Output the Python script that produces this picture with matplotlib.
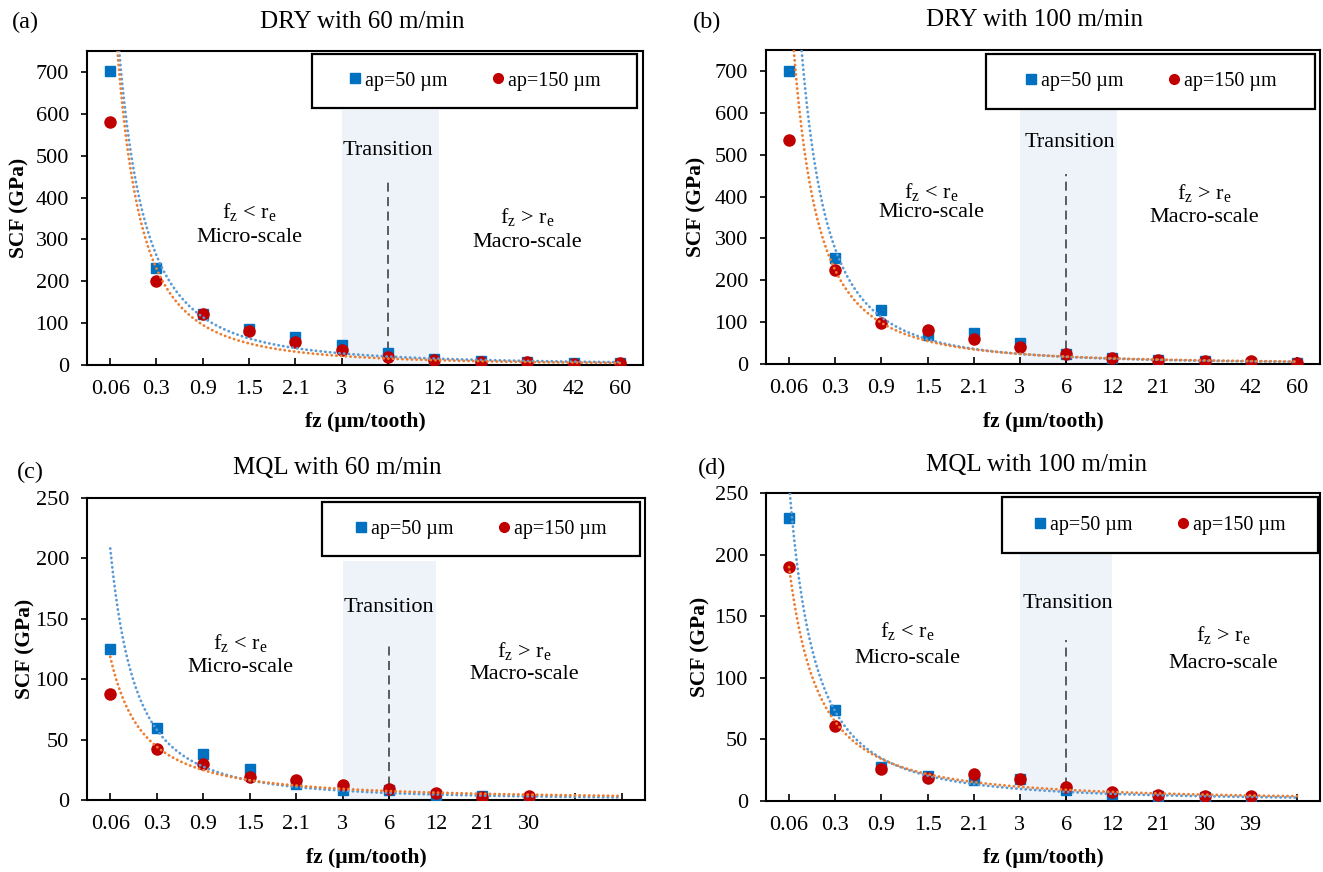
import numpy as np
import matplotlib
matplotlib.use("Agg")
import matplotlib.pyplot as plt
from matplotlib.patches import Rectangle
from matplotlib.lines import Line2D

plt.rcParams['font.family'] = ['Liberation Serif', 'DejaVu Serif']
plt.rcParams['mathtext.fontset'] = 'custom'
plt.rcParams['mathtext.rm'] = 'Liberation Serif'
plt.rcParams['mathtext.it'] = 'Liberation Serif:italic'

# ---------------- data ----------------
fz_dry = ['0.06', '0.3', '0.9', '1.5', '2.1', '3', '6', '12', '21', '30', '42', '60']
fz_mql60 = ['0.06', '0.3', '0.9', '1.5', '2.1', '3', '6', '12', '21', '30']
fz_mql100 = ['0.06', '0.3', '0.9', '1.5', '2.1', '3', '6', '12', '21', '30', '39']

scf_dry60_ap50 = [702, 232, 123, 87, 66, 47, 28, 15, 10, 8, 5, 5]
scf_dry60_ap150 = [581, 201, 121, 81, 56, 37, 20, 12, 6, 6, 3, 4]
scf_dry100_ap50 = [700, 252, 130, 70, 73, 49, 25, 14, 10, 6, 3, 3]
scf_dry100_ap150 = [535, 224, 97, 81, 59, 41, 24, 14, 10, 6, 6, 3]
scf_mql60_ap50 = [125, 60, 38, 25.5, 13.5, 8.5, 8.3, 4.5, 3.5, 1.2]
scf_mql60_ap150 = [88, 42.5, 29.5, 19, 16.5, 12.5, 9.5, 6, 2.8, 3.5]
scf_mql100_ap50 = [230, 74, 27.5, 20, 17, 17.5, 9, 6, 4, 3, 2.5]
scf_mql100_ap150 = [190, 61, 26, 19, 21.7, 17.6, 11.5, 7.5, 5, 4.3, 3.8]

legend_labels = ['ap=50 µm', 'ap=150 µm']
titles = ['DRY with 60 m/min', 'DRY with 100 m/min', 'MQL with 60 m/min', 'MQL with 100 m/min']
letters = ['(a)', '(b)', '(c)', '(d)']

# ---------------- styling ----------------
W, H = 1323, 872
BLUE_M, RED_M = '#0070C0', '#C00000'
BLUE_T, ORANGE_T = '#5B9BD5', '#ED7D31'
SHADE = '#EEF3FA'

fig = plt.figure(figsize=(W / 100, H / 100), dpi=100)


def fx(px):
    return px / W


def fy(py):
    return 1 - py / H


F_LT = r'$\mathregular{f_z}$ < $\mathregular{r_e}$'
F_GT = r'$\mathregular{f_z}$ > $\mathregular{r_e}$'

panels = [
    dict(rect=(87, 51, 643, 365), cats=fz_dry, ncat=12, ys=(scf_dry60_ap50, scf_dry60_ap150),
         ylim=750, yticks=np.arange(0, 701, 100), shade=(6, 8.1, 610), vline=440,
         texts=[(7, 513, 'Transition'), (4, 365, F_LT), (4, 305, 'Micro-scale'),
                (10, 353, F_GT), (10, 293, 'Macro-scale')],
         legend=(312, 54, 637, 108), title=(362, 22), letter=(25, 22), ylab=-0.122, xlab=-0.182),
    dict(rect=(766, 50, 1320, 364), cats=fz_dry, ncat=12, ys=(scf_dry100_ap50, scf_dry100_ap150),
         ylim=750, yticks=np.arange(0, 701, 100), shade=(6, 8.1, 635), vline=455,
         texts=[(7.08, 530, 'Transition'), (4.08, 412, F_LT), (4.08, 361, 'Micro-scale'),
                (10, 409, F_GT), (10, 349, 'Macro-scale')],
         legend=(986, 54, 1315, 109), title=(1034, 20), letter=(707, 22), ylab=-0.126, xlab=-0.185),
    dict(rect=(87, 498, 645, 800), cats=fz_mql60, ncat=12, ys=(scf_mql60_ap50, scf_mql60_ap150),
         ylim=250, yticks=np.arange(0, 251, 50), shade=(6, 8, 198), vline=129,
         texts=[(7, 159, 'Transition'), (3.8, 130, F_LT), (3.8, 110, 'Micro-scale'),
                (9.9, 123, F_GT), (9.9, 104, 'Macro-scale')],
         legend=(322, 502, 640, 556), title=(337, 468), letter=(30, 472), ylab=-0.111, xlab=-0.192),
    dict(rect=(766, 493, 1320, 801), cats=fz_mql100, ncat=12, ys=(scf_mql100_ap50, scf_mql100_ap150),
         ylim=250, yticks=np.arange(0, 251, 50), shade=(6, 8, 201), vline=131,
         texts=[(7.04, 160, 'Transition'), (3.56, 138, F_LT), (3.56, 116, 'Micro-scale'),
                (10.4, 135, F_GT), (10.4, 112, 'Macro-scale')],
         legend=(1002, 497, 1318, 553), title=(1036, 465), letter=(712, 468), ylab=-0.119, xlab=-0.185),
]

for i, p in enumerate(panels):
    x0, y0, x1, y1 = p['rect']
    ax = fig.add_axes([fx(x0), fy(y1), fx(x1 - x0), (y1 - y0) / H])
    ncat = p['ncat']
    cats = list(p['cats']) + [''] * (ncat - len(p['cats']))
    xpos = np.arange(1, ncat + 1)

    # shaded transition region
    s0, s1, stop = p['shade']
    ax.add_patch(Rectangle((s0, 0), s1 - s0, stop, facecolor=SHADE, edgecolor='none', zorder=0))
    # dashed line at fz = 6
    ax.plot([7, 7], [0, p['vline']], color='#505050', lw=1.3, ls=(0, (5, 3)), zorder=1)

    # markers
    ya, yb = p['ys']
    xa = np.arange(1, len(ya) + 1)
    ax.plot(xa, ya, ls='none', marker='s', ms=7.5, color=BLUE_M, mec=BLUE_M, zorder=3)
    ax.plot(xa, yb, ls='none', marker='o', ms=8, color=RED_M, mec=RED_M, zorder=3.5)

    # power trendlines (least squares in log-log, as in the original)
    xt = np.linspace(1, ncat, 400)
    for yv, c in ((ya, BLUE_T), (yb, ORANGE_T)):
        b, lna = np.polyfit(np.log(xa), np.log(yv), 1)
        ax.plot(xt, np.exp(lna) * xt ** b, color=c, lw=2.0, ls=(0, (0.1, 1.6)),
                dash_capstyle='round', solid_capstyle='round', zorder=4)

    for tx, ty, s in p['texts']:
        ax.text(tx, ty, s, ha='center', va='center', fontsize=16, zorder=2)

    ax.set_xlim(0.5, ncat + 0.5)
    ax.set_ylim(0, p['ylim'])
    ax.set_xticks(xpos)
    ax.set_xticklabels(cats)
    ax.set_yticks(p['yticks'])
    ax.tick_params(axis='x', direction='in', length=5, width=1.2, pad=11, labelsize=16)
    ax.tick_params(axis='y', direction='out', length=4, width=1.2, pad=9, labelsize=16)
    for sp in ax.spines.values():
        sp.set_linewidth(1.5)
        sp.set_color('black')

    ax.set_ylabel('SCF (GPa)', fontsize=15.5, fontweight='bold', va='center')
    ax.yaxis.set_label_coords(p['ylab'], 0.5)
    ax.set_xlabel('fz (µm/tooth)', fontsize=15.5, fontweight='bold', va='center')
    ax.xaxis.set_label_coords(0.5, p['xlab'])

    # legend box
    lx0, ly0, lx1, ly1 = p['legend']
    box = Rectangle((fx(lx0), fy(ly1)), fx(lx1 - lx0), (ly1 - ly0) / H, transform=fig.transFigure,
                    facecolor='white', edgecolor='black', lw=1.6, zorder=5, clip_on=False)
    ax.add_patch(box)
    handles = [Line2D([], [], ls='none', marker='s', ms=7, color=BLUE_M),
               Line2D([], [], ls='none', marker='o', ms=7, color=RED_M)]
    leg = ax.legend(handles, legend_labels, loc='center', ncol=2, frameon=False,
                    bbox_to_anchor=(fx((lx0 + lx1) / 2), fy((ly0 + ly1) / 2)),
                    bbox_transform=fig.transFigure, fontsize=14.5, handlelength=0.6,
                    handletextpad=0.2, columnspacing=2.2)
    leg.set_zorder(6)

    # title and panel letter
    tx, ty = p['title']
    fig.text(fx(tx), fy(ty), titles[i], ha='center', va='center', fontsize=18)
    lx, ly = p['letter']
    fig.text(fx(lx), fy(ly), letters[i], ha='center', va='center', fontsize=17.5)

fig.savefig('out.png', dpi=100)
